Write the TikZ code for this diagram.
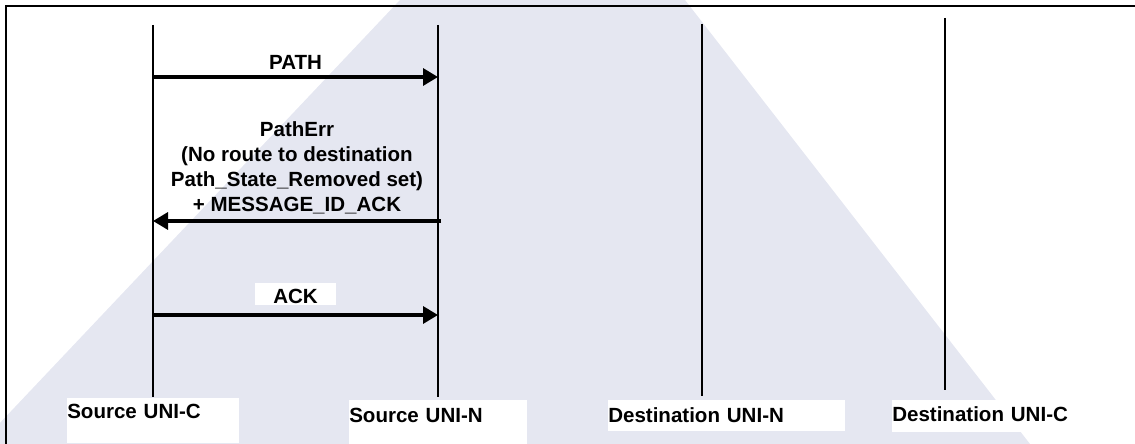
\documentclass[tikz,border=0pt]{standalone}
\usepackage{fontspec}
\setmainfont{Liberation Sans}
\usetikzlibrary{arrows.meta}
\definecolor{wmark}{RGB}{229,231,241}

\begin{document}
\begin{tikzpicture}[x=0.025cm,y=-0.025cm,
  every node/.style={font=\fontsize{14.6}{17.8}\selectfont\bfseries,inner sep=0pt},
  lifeline/.style={line width=1.4pt},
  msg/.style={line width=2.3pt,-{Triangle[length=0.375cm,width=0.425cm]}},
  partbox/.style={fill=white,align=left,anchor=north west}]
\useasboundingbox(0,0) rectangle (1135,444);
\fill[wmark](400,0)--(685,0)--(1030,444)--(-20,444)--cycle;
\draw[line width=1.4pt](6,444)--(6,6)--(1135,6);

% lifelines
\coordinate (sc) at (153,25);  \coordinate (sc-b) at (153,397);
\coordinate (sn) at (438,25);  \coordinate (sn-b) at (438,397);
\coordinate (dn) at (702,24);  \coordinate (dn-b) at (702,396);
\coordinate (dc) at (945,18);  \coordinate (dc-b) at (945,390);
\draw[lifeline](sc)--(sc-b);
\draw[lifeline](sn)--(sn-b);
\draw[lifeline](dn)--(dn-b);
\draw[lifeline](dc)--(dc-b);

\node[partbox,text width=4.3cm,text height=0.5cm,text depth=0.625cm] (scl) at (67,398) {Source UNI-C};
\node[partbox,text width=4.45cm,text height=0.55cm,text depth=0.55cm] (snl) at (349,400) {Source UNI-N};
\node[partbox,text width=5.925cm,text height=0.55cm,text depth=0.225cm] (dnl) at (608,400) {Destination UNI-N};
\node[partbox,text width=4.625cm,text height=0.525cm,text depth=0.275cm] (dcl) at (892,400) {Destination UNI-C};

% messages
\coordinate (path-a) at (153,77);  \coordinate (path-b) at (438,77);
\coordinate (err-a) at (441,221);  \coordinate (err-b) at (153,221);
\coordinate (ack-a) at (153,315);  \coordinate (ack-b) at (438,315);
\draw[msg](path-a)--node[midway,above=0.15cm] (pathl) {PATH} (path-b);
\draw[msg](err-a)--node[midway,above=0.14cm,align=center] (errl)
  {PathErr\\(No route to destination\\Path\_State\_Removed set)\\+ MESSAGE\_ID\_ACK} (err-b);
\draw[msg](ack-a)--node[midway,above=0.2cm,fill=white,text width=2.025cm,align=center,
  text height=0.5cm,text depth=0.05cm] (ackl) {ACK} (ack-b);
\end{tikzpicture}
\end{document}
